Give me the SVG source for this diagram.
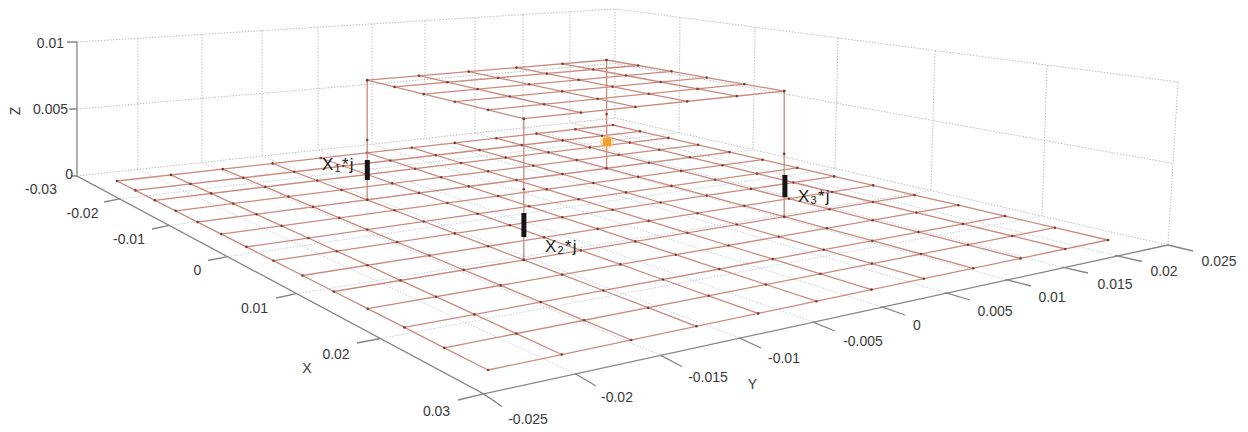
<svg xmlns="http://www.w3.org/2000/svg" width="1248" height="432" viewBox="0 0 1248 432">
<style>
.wall{fill:none;stroke:#bdbdbd;stroke-width:1;stroke-dasharray:1.5 1.5}
.fl{fill:none;stroke:#c8d0d8;stroke-width:1;stroke-dasharray:1.5 1.5}
.ax{fill:none;stroke:#858585;stroke-width:1.3}
.tk{fill:#3a3a3a;font-family:"Liberation Sans",Arial,sans-serif;font-size:14px;text-anchor:middle}
.tkr{fill:#3a3a3a;font-family:"Liberation Sans",Arial,sans-serif;font-size:14px;text-anchor:end}
.g{fill:none;stroke:#c98a7f;stroke-width:1.3}
.gr{fill:none;stroke:#c98a7f;stroke-width:1.3;marker-start:url(#dot);marker-mid:url(#dot);marker-end:url(#dot)}
.lbl{fill:#1c1c1c;font-family:"Liberation Sans",Arial,sans-serif;font-size:17px;letter-spacing:1.2px}
.bar{fill:#151515}
</style>
<defs>
<marker id="dot" markerWidth="4" markerHeight="4" refX="2" refY="2" markerUnits="userSpaceOnUse"><circle cx="2" cy="2" r="1.3" fill="#7e3a32"/></marker>
</defs>
<rect width="1248" height="432" fill="#ffffff"/>
<g id="walls">
<path class="wall" d="M77,42 L615,9 L1178,82 M77,109 L615,63.5 L1173,163.5 M77,176 L615,118 L1168,245 M615,9 L615,118 M1178,82 L1168,245"/>
<path class="wall" d="M138,38.3V169.4 M202,34.3V162.5 M262,30.7V156.1 M318,27.2V150 M372,23.9V144.2 M425,20.7V138.5 M475,17.6V133.1 M523,14.6V127.9 M570,11.8V122.8"/>
<path class="wall" d="M680,17.4L679,132.7 M755,27.2L753,149.7 M838,37.9L835,168.5 M935,50.5L931,190.6 M1047,65L1042,216.1"/>
</g>
<g id="floor-gridlines">
<path class="fl" d="M119.8,198.9L679,132.7 M169.3,225.4L753,149.7 M227.4,256.6L835,168.5 M296.6,293.7L931,190.6 M380.3,338.5L1042,216.1"/>
<path class="fl" d="M575.3,373.8L138,169.4 M660.3,355.2L202,162.5 M739.2,337.9L262,156.1 M812.6,321.8L318,150 M881.2,306.7L372,144.2 M945.4,292.7L425,138.5 M1005.6,279.5L475,133.1 M1062.1,267.1L523,127.9 M1115.3,255.4L570,122.8"/>
</g>
<g id="axes">
<path class="ax" d="M77,42V176 L483.6,393.9 L1168,245"/>
<path class="ax" d="M77,42H67 M77,109H69 M77,176H71"/>
<path class="ax" d="M119.8,198.9L104,202 M169.3,225.4L152,229 M227.4,256.6L208,260.5 M296.6,293.7L276,298 M380.3,338.5L357,343 M483.6,393.9L458,400"/>
<path class="ax" d="M483.6,393.9L502,406.5 M575.3,373.8L596,386 M660.3,355.2L682,366.5 M739.2,337.9L761,348 M812.6,321.8L835,331 M881.2,306.7L905,315 M945.4,292.7L970,300 M1005.6,279.5L1031,286 M1062.1,267.1L1088,273 M1115.3,255.4L1142,261.5 M1168,245L1193,251"/>
</g>
<g id="tick-labels">
<text class="tkr" x="64" y="47.5">0.01</text>
<text class="tkr" x="68" y="114">0.005</text>
<text class="tkr" x="73" y="179">0</text>
<text class="tk" transform="translate(20,111) rotate(-90)">Z</text>
<text class="tk" x="41" y="194">-0.03</text>
<text class="tk" x="82.5" y="217.5">-0.02</text>
<text class="tk" x="129" y="244">-0.01</text>
<text class="tk" x="197.5" y="275">0</text>
<text class="tk" x="254.5" y="313">0.01</text>
<text class="tk" x="336" y="359">0.02</text>
<text class="tk" x="436.5" y="415.5">0.03</text>
<text class="tk" x="307" y="372.5">X</text>
<text class="tk" x="528" y="423.5">-0.025</text>
<text class="tk" x="617" y="401.5">-0.02</text>
<text class="tk" x="708" y="381.5">-0.015</text>
<text class="tk" x="784" y="362.5">-0.01</text>
<text class="tk" x="752.5" y="389">Y</text>
<text class="tk" x="863" y="346">-0.005</text>
<text class="tk" x="917" y="330">0</text>
<text class="tk" x="995" y="315.5">0.005</text>
<text class="tk" x="1052" y="301.5">0.01</text>
<text class="tk" x="1115" y="288.5">0.015</text>
<text class="tk" x="1164" y="276">0.02</text>
<text class="tk" x="1219" y="265.5">0.025</text>
</g>
<g id="floor-grid">
<path class="g" d="M117,181L613,125 M135.4,190.4L640,131.3 M154.9,200.3L668.4,137.9 M175.6,210.8L698.1,144.8 M197.6,222.1L729.5,152.1 M221.2,234.1L762.5,159.7 M246.4,246.9L797.4,167.8 M273.4,260.7L834.2,176.4 M302.5,275.5L873.2,185.4 M333.8,291.5L914.5,195.1 M367.7,308.7L958.4,205.2 M404.4,327.4L1005.1,216.1 M444.3,347.8L1054.9,227.7 M488,370L1108,240"/>
<polyline class="gr" points="117,181 135.4,190.4 154.9,200.3 175.6,210.8 197.6,222.1 221.2,234.1 246.4,246.9 273.4,260.7 302.5,275.5 333.8,291.5 367.7,308.7 404.4,327.4 444.3,347.8 488,370"/>
<polyline class="gr" points="170.9,174.9 190.5,183.9 211.2,193.4 233.2,203.6 256.6,214.3 281.6,225.8 308.3,238 336.8,251.2 367.5,265.2 400.4,280.4 436,296.7 474.5,314.4 516.3,333.6 561.8,354.5"/>
<polyline class="gr" points="222.8,169.1 243.4,177.7 265.3,186.9 288.5,196.6 313.1,206.9 339.3,217.9 367.3,229.6 397.2,242.1 429.3,255.5 463.7,269.9 500.7,285.4 540.7,302.1 584.1,320.3 631.2,340"/>
<polyline class="gr" points="272.6,163.4 294.3,171.8 317.2,180.5 341.5,189.9 367.2,199.8 394.6,210.3 423.7,221.5 454.8,233.4 488.1,246.2 523.8,259.9 562.1,274.6 603.4,290.5 648.1,307.7 696.5,326.3"/>
<polyline class="gr" points="320.7,158 343.3,166 367.1,174.5 392.3,183.4 419,192.9 447.4,203 477.6,213.7 509.8,225.2 544.1,237.4 580.9,250.4 620.4,264.4 662.8,279.5 708.6,295.8 758.2,313.4"/>
<polyline class="gr" points="367,152.8 390.4,160.5 415.1,168.7 441.2,177.3 468.8,186.4 498.1,196.1 529.2,206.3 562.3,217.3 597.6,228.9 635.4,241.4 675.8,254.7 719.2,269.1 765.9,284.5 816.4,301.2"/>
<polyline class="gr" points="411.7,147.7 435.8,155.2 461.2,163 488.1,171.3 516.5,180.1 546.7,189.4 578.6,199.2 612.5,209.7 648.7,220.9 687.3,232.8 728.5,245.5 772.8,259.1 820.3,273.8 871.5,289.6"/>
<polyline class="gr" points="454.7,142.9 479.6,150.1 505.7,157.6 533.3,165.6 562.5,174.1 593.3,183 626,192.4 660.6,202.5 697.5,213.2 736.8,224.5 778.8,236.7 823.7,249.7 871.9,263.6 923.8,278.7"/>
<polyline class="gr" points="496.4,138.2 521.8,145.1 548.6,152.4 576.8,160.1 606.6,168.2 638.1,176.8 671.4,185.9 706.7,195.6 744.3,205.8 784.2,216.7 826.8,228.3 872.3,240.7 921,254 973.3,268.3"/>
<polyline class="gr" points="536.6,133.6 562.6,140.4 589.9,147.4 618.7,154.8 649.1,162.7 681.2,170.9 715.1,179.7 751,188.9 789,198.7 829.5,209.2 872.6,220.3 918.6,232.1 967.8,244.8 1020.5,258.4"/>
<polyline class="gr" points="575.4,129.3 602,135.7 629.8,142.6 659.2,149.7 690,157.3 722.6,165.2 757,173.6 793.4,182.5 832,192 872.9,202 916.4,212.6 962.8,223.9 1012.3,236 1065.3,249"/>
<polyline class="gr" points="613,125 640,131.3 668.4,137.9 698.1,144.8 729.5,152.1 762.5,159.7 797.4,167.8 834.2,176.4 873.2,185.4 914.5,195.1 958.4,205.2 1005.1,216.1 1054.9,227.7 1108,240"/>
</g>
<g id="connectors">
<polyline class="gr" points="367.2,80.2 367.2,140 367.2,199.8"/>
<polyline class="gr" points="523.8,118.7 523.8,189.3 523.8,259.9"/>
<polyline class="gr" points="784.2,91.1 784.2,153.9 784.2,216.7"/>
<polyline class="gr" points="606.6,60 606.6,114.1 606.6,168.2"/>
</g>
<g id="plate">
<path class="g" d="M367.2,80.2L606.6,60 M394.6,86.9L638.1,65.5 M423.7,94.1L671.4,71.3 M454.8,101.7L706.7,77.6 M488.1,109.9L744.3,84.1 M523.8,118.7L784.2,91.1"/>
<polyline class="gr" points="367.2,80.2 394.6,86.9 423.7,94.1 454.8,101.7 488.1,109.9 523.8,118.7"/>
<polyline class="gr" points="419,75.7 447.4,82.2 477.6,89.1 509.8,96.5 544.1,104.3 580.9,112.6"/>
<polyline class="gr" points="468.8,71.6 498.1,77.8 529.2,84.3 562.3,91.4 597.6,98.8 635.4,106.9"/>
<polyline class="gr" points="516.5,67.6 546.7,73.6 578.6,79.8 612.5,86.6 648.7,93.8 687.3,101.4"/>
<polyline class="gr" points="562.5,63.8 593.3,69.5 626,75.5 660.6,82 697.5,88.9 736.8,96.1"/>
<polyline class="gr" points="606.6,60 638.1,65.5 671.4,71.3 706.7,77.6 744.3,84.1 784.2,91.1"/>
</g>
<g id="source-marker">
<circle cx="607" cy="142" r="7" fill="#f7c27a" opacity="0.55"/>
<rect x="603" y="138" width="8" height="8" fill="#f0a030"/>
</g>
<g id="node-x1">
<rect class="bar" x="364.8" y="160" width="5" height="20"/>
<text class="lbl" x="322" y="170">X<tspan font-size="11" dy="2">1</tspan><tspan dy="-2">*j</tspan></text>
</g>
<g id="node-x2">
<rect class="bar" x="521.4" y="213" width="5" height="24"/>
<text class="lbl" x="545" y="251.5">X<tspan font-size="11" dy="2">2</tspan><tspan dy="-2">*j</tspan></text>
</g>
<g id="node-x3">
<rect class="bar" x="782.4" y="175" width="5" height="22"/>
<text class="lbl" x="798" y="201.5">X<tspan font-size="11" dy="2">3</tspan><tspan dy="-2">*j</tspan></text>
</g>
</svg>
